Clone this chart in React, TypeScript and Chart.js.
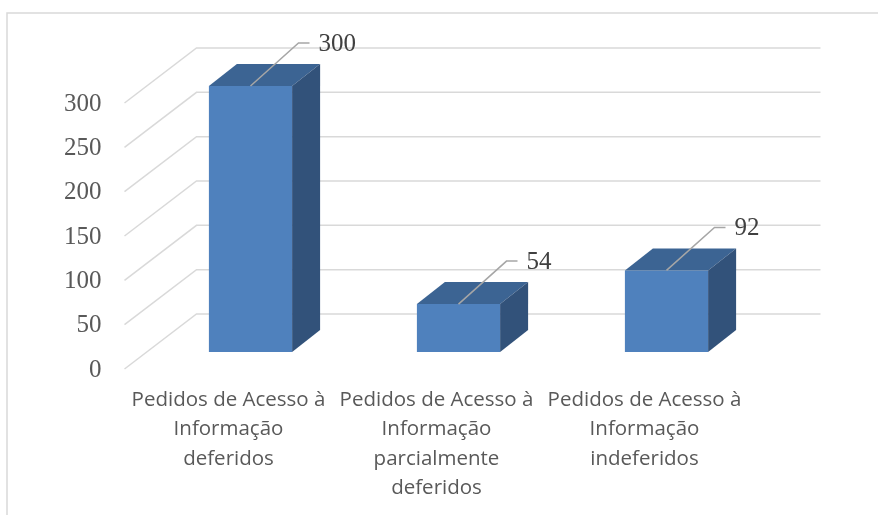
import React, { useEffect, useRef } from "react";
import { Chart, registerables } from "chart.js";

Chart.register(...registerables);

// ---- data ----
const categories: string[][] = [
  ["Pedidos de Acesso à", "Informação", "deferidos"],
  ["Pedidos de Acesso à", "Informação", "parcialmente", "deferidos"],
  ["Pedidos de Acesso à", "Informação", "indeferidos"],
];
const values: number[] = [300, 54, 92];
const yMin = 0;
const yMax = 300;
const yStep = 50;

// ---- 3D projection offsets (relative to bar front plane) ----
const FRONT = { dx: -22, dy: 17 };
const BACK = { dx: 50, dy: -38 };
const BAR_DEPTH = { dx: 28, dy: -22 };

const COLORS = {
  front: "#4F81BD",
  top: "#3C6493",
  side: "#32527A",
  grid: "#D9D9D9",
  border: "#D9D9D9",
  tick: "#595959",
  label: "#404040",
  leader: "#A6A6A6",
};

const SERIF = '"Liberation Serif", "DejaVu Serif", serif';
const SANS = '"Open Sans", "Noto Sans", sans-serif';

const bar3dPlugin = {
  id: "bar3d",
  beforeDraw(chart: any) {
    const ctx = chart.ctx;
    ctx.save();
    ctx.fillStyle = "#ffffff";
    ctx.fillRect(0, 0, chart.width, chart.height);
    ctx.strokeStyle = COLORS.border;
    ctx.lineWidth = 1.5;
    ctx.strokeRect(7, 13, chart.width + 20, chart.height + 20);
    ctx.restore();
  },
  beforeDatasetsDraw(chart: any) {
    const ctx = chart.ctx;
    const { left, right, bottom } = chart.chartArea;
    const yScale = chart.scales.y;
    const xScale = chart.scales.x;
    ctx.save();
    // wall gridlines
    ctx.strokeStyle = COLORS.grid;
    ctx.lineWidth = 1.5;
    for (const t of yScale.ticks) {
      const y = yScale.getPixelForValue(t.value);
      ctx.beginPath();
      ctx.moveTo(left + FRONT.dx, y + FRONT.dy);
      ctx.lineTo(left + BACK.dx, y + BACK.dy);
      ctx.lineTo(right + BACK.dx, y + BACK.dy);
      ctx.stroke();
    }
    // y tick labels
    ctx.fillStyle = COLORS.tick;
    ctx.font = `25px ${SERIF}`;
    ctx.textAlign = "right";
    ctx.textBaseline = "middle";
    for (const t of yScale.ticks) {
      const y = yScale.getPixelForValue(t.value);
      ctx.fillText(String(t.value), left + FRONT.dx - 23, y + FRONT.dy + 1);
    }
    // x category labels
    ctx.font = `20.5px ${SANS}`;
    ctx.textAlign = "center";
    const labels = chart.data.labels as string[][];
    labels.forEach((lines, i) => {
      const x = xScale.getPixelForValue(i) + FRONT.dx;
      lines.forEach((line, j) => {
        ctx.fillText(line, x, bottom + 48 + j * 29.5);
      });
    });
    ctx.restore();
  },
  afterDatasetsDraw(chart: any) {
    const ctx = chart.ctx;
    const meta = chart.getDatasetMeta(0);
    ctx.save();
    meta.data.forEach((bar: any) => {
      const { x, y, base, width } = bar.getProps(["x", "y", "base", "width"], true);
      const l = x - width / 2;
      const r = x + width / 2;
      // top face
      ctx.fillStyle = COLORS.top;
      ctx.beginPath();
      ctx.moveTo(l, y);
      ctx.lineTo(l + BAR_DEPTH.dx, y + BAR_DEPTH.dy);
      ctx.lineTo(r + BAR_DEPTH.dx, y + BAR_DEPTH.dy);
      ctx.lineTo(r, y);
      ctx.closePath();
      ctx.fill();
      // side face
      ctx.fillStyle = COLORS.side;
      ctx.beginPath();
      ctx.moveTo(r, y);
      ctx.lineTo(r + BAR_DEPTH.dx, y + BAR_DEPTH.dy);
      ctx.lineTo(r + BAR_DEPTH.dx, base + BAR_DEPTH.dy);
      ctx.lineTo(r, base);
      ctx.closePath();
      ctx.fill();
    });
    // leader lines + data labels
    const data = chart.data.datasets[0].data as number[];
    meta.data.forEach((bar: any, i: number) => {
      const { x, y } = bar.getProps(["x", "y"], true);
      const ex = x + 48;
      const ey = y - 43;
      ctx.strokeStyle = COLORS.leader;
      ctx.lineWidth = 1.5;
      ctx.beginPath();
      ctx.moveTo(x, y);
      ctx.lineTo(ex, ey);
      ctx.lineTo(ex + 11, ey);
      ctx.stroke();
      ctx.fillStyle = COLORS.label;
      ctx.font = `25px ${SERIF}`;
      ctx.textAlign = "left";
      ctx.textBaseline = "middle";
      ctx.fillText(String(data[i]), ex + 20, ey + 1);
    });
    ctx.restore();
  },
};

export default function App() {
  const canvasRef = useRef<HTMLCanvasElement | null>(null);

  useEffect(() => {
    if (!canvasRef.current) return;
    const chart = new Chart(canvasRef.current, {
      type: "bar",
      data: {
        labels: categories as any,
        datasets: [
          {
            data: values,
            backgroundColor: COLORS.front,
            borderWidth: 0,
            barPercentage: 0.4,
            categoryPercentage: 1,
          },
        ],
      },
      options: {
        responsive: false,
        animation: false,
        devicePixelRatio: 1,
        layout: { padding: { left: 146.5, right: 107.5, top: 86, bottom: 163 } },
        plugins: { legend: { display: false }, tooltip: { enabled: false } },
        scales: {
          x: { display: false, offset: true, grid: { display: false } },
          y: {
            display: false,
            min: yMin,
            max: yMax,
            ticks: { stepSize: yStep },
          },
        },
      },
      plugins: [bar3dPlugin],
    });
    return () => chart.destroy();
  }, []);

  return (
    <div style={{ position: "fixed", left: 0, top: 0, width: 878, height: 515, background: "#fff" }}>
      <canvas ref={canvasRef} width={878} height={515} style={{ width: 878, height: 515, display: "block" }} />
    </div>
  );
}
